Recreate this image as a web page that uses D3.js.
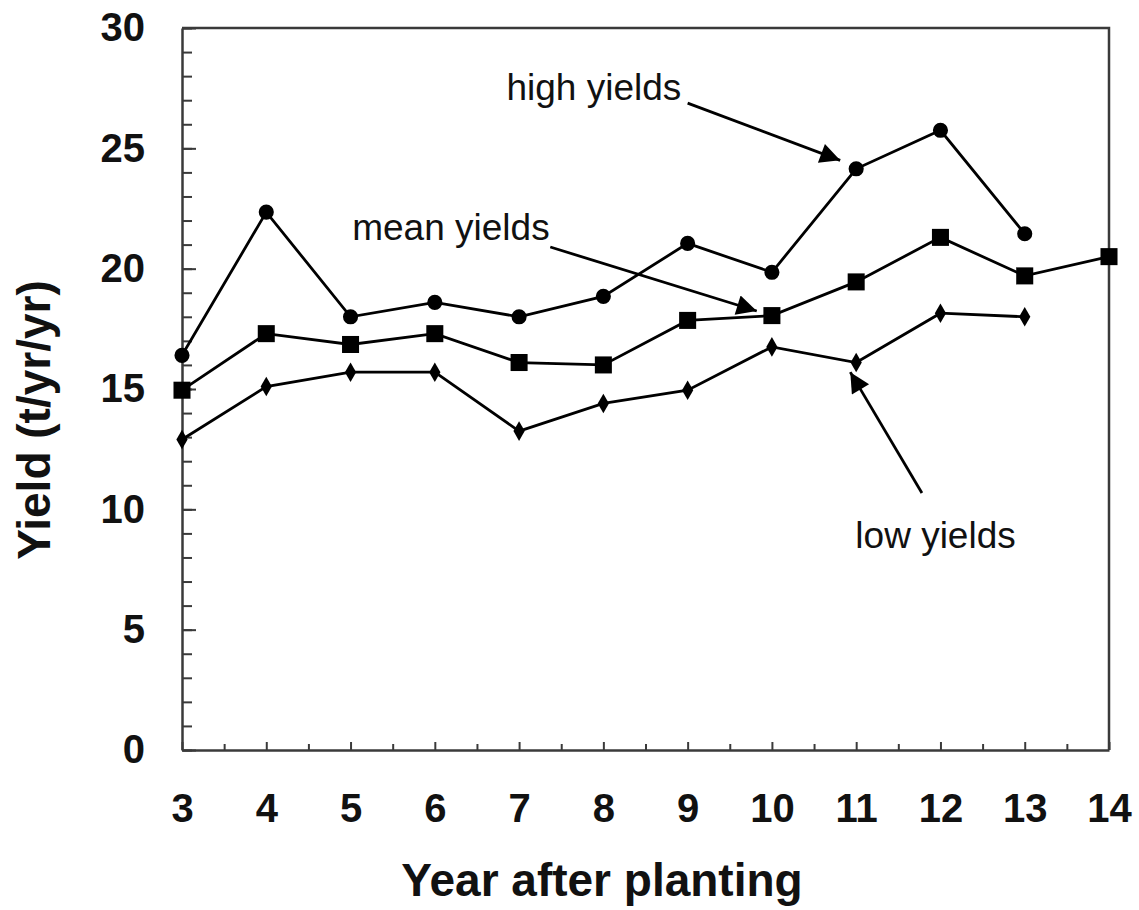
<!DOCTYPE html>
<html>
<head>
    <title>Yield by year after planting</title>
    <script src="https://d3js.org/d3.v7.min.js"></script>
    <style>
        body {
            margin: 0;
            background: #fff;
        }
        svg text {
            font-family: "Liberation Sans", Arial, sans-serif;
        }
    </style>
</head>
<body>
    <svg id="chart" width="1139" height="910"></svg>

    <script>
        // data
        const years = [3, 4, 5, 6, 7, 8, 9, 10, 11, 12, 13, 14];
        const highYields = [16.4, 22.35, 18.0, 18.6, 18.0, 18.85, 21.05, 19.85, 24.15, 25.75, 21.45, null];
        const meanYields = [14.95, 17.3, 16.85, 17.3, 16.1, 16.0, 17.85, 18.05, 19.45, 21.3, 19.7, 20.5];
        const lowYields = [12.9, 15.1, 15.7, 15.7, 13.25, 14.4, 14.95, 16.75, 16.1, 18.15, 18.0, null];
        const yTicks = [0, 5, 10, 15, 20, 25, 30];

        // annotation labels and where their arrows point (data coords)
        const notes = [
            { label: 'high yields', tx: 6.85, ty: 27.0, from: [9.0, 26.88], to: [10.81, 24.5] },
            { label: 'mean yields', tx: 5.02, ty: 21.2, from: [7.37, 20.9], to: [9.82, 18.24] },
            { label: 'low yields', tx: 10.99, ty: 8.4, from: [11.78, 10.68], to: [10.93, 15.7] }
        ];

        const svg = d3.select('#chart');
        const plotLeft = 182, plotRight = 1109, plotTop = 28, plotBottom = 750;

        const x = d3.scaleLinear().domain([3, 14]).range([plotLeft, plotRight]);
        const y = d3.scaleLinear().domain([0, 30]).range([plotBottom, plotTop]);

        const axisColor = '#3a3a3a';

        // frame (top and right)
        svg.append('path')
            .attr('d', `M${plotLeft},${plotTop} H${plotRight} V${plotBottom}`)
            .attr('fill', 'none')
            .attr('stroke', axisColor)
            .attr('stroke-width', 2.5);

        // y axis - minor ticks every unit, major every 5
        svg.append('g')
            .attr('transform', `translate(${plotLeft},0)`)
            .call(d3.axisLeft(y).tickValues(d3.range(0, 31)).tickSize(-10).tickFormat(''))
            .call(g => g.select('.domain').remove())
            .call(g => g.selectAll('line').attr('stroke', axisColor).attr('stroke-width', 2));

        const yAxis = svg.append('g')
            .attr('transform', `translate(${plotLeft},0)`)
            .call(d3.axisLeft(y).tickValues(yTicks).tickSizeInner(-14).tickSizeOuter(0).tickPadding(37));
        yAxis.select('.domain').attr('stroke', axisColor).attr('stroke-width', 2.5);
        yAxis.selectAll('line').attr('stroke', axisColor).attr('stroke-width', 2);
        yAxis.selectAll('text')
            .attr('font-size', 40)
            .attr('font-weight', 'bold')
            .attr('fill', '#111');

        // x axis - ticks at each year and half year
        svg.append('g')
            .attr('transform', `translate(0,${plotBottom})`)
            .call(d3.axisBottom(x).tickValues(d3.range(3.5, 14, 1)).tickSize(-6).tickFormat(''))
            .call(g => g.select('.domain').remove())
            .call(g => g.selectAll('line').attr('stroke', axisColor).attr('stroke-width', 2));

        const xAxis = svg.append('g')
            .attr('transform', `translate(0,${plotBottom})`)
            .call(d3.axisBottom(x).tickValues(years).tickSizeInner(-8).tickSizeOuter(0).tickPadding(44));
        xAxis.select('.domain').attr('stroke', axisColor).attr('stroke-width', 2.5);
        xAxis.selectAll('line').attr('stroke', axisColor).attr('stroke-width', 2);
        xAxis.selectAll('text')
            .attr('font-size', 40)
            .attr('font-weight', 'bold')
            .attr('fill', '#111');

        // axis titles
        svg.append('text')
            .attr('x', 602)
            .attr('y', 896)
            .attr('text-anchor', 'middle')
            .attr('font-size', 46)
            .attr('font-weight', 'bold')
            .attr('fill', '#111')
            .text('Year after planting');

        svg.append('text')
            .attr('transform', 'translate(50,420) rotate(-90)')
            .attr('text-anchor', 'middle')
            .attr('font-size', 46)
            .attr('font-weight', 'bold')
            .attr('fill', '#111')
            .text('Yield (t/yr/yr)');

        // series
        const line = d3.line()
            .defined(d => d.v !== null)
            .x(d => x(d.year))
            .y(d => y(d.v));

        const series = [
            { name: 'high', values: highYields, shape: d3.symbolCircle, size: 180 },
            { name: 'mean', values: meanYields, shape: d3.symbolSquare, size: 290 },
            { name: 'low', values: lowYields, shape: d3.symbolDiamond, size: 110 }
        ];

        series.forEach(s => {
            const pts = years.map((yr, i) => ({ year: yr, v: s.values[i] }));
            svg.append('path')
                .datum(pts)
                .attr('d', line)
                .attr('fill', 'none')
                .attr('stroke', '#000')
                .attr('stroke-width', 2.8);

            svg.append('g')
                .selectAll('path')
                .data(pts.filter(d => d.v !== null))
                .join('path')
                .attr('transform', d => `translate(${x(d.year)},${y(d.v)})`)
                .attr('d', d3.symbol().type(s.shape).size(s.size))
                .attr('fill', '#000');
        });

        // annotations with arrows
        svg.append('defs').append('marker')
            .attr('id', 'arrowhead')
            .attr('viewBox', '0 0 10 10')
            .attr('refX', 10)
            .attr('refY', 5)
            .attr('markerUnits', 'userSpaceOnUse')
            .attr('markerWidth', 27)
            .attr('markerHeight', 20)
            .attr('orient', 'auto')
            .append('path')
            .attr('d', 'M0,0 L10,5 L0,10 Z')
            .attr('fill', '#000');

        notes.forEach(n => {
            svg.append('text')
                .attr('x', x(n.tx))
                .attr('y', y(n.ty))
                .attr('font-size', 37)
                .attr('fill', '#111')
                .text(n.label);

            svg.append('line')
                .attr('x1', x(n.from[0]))
                .attr('y1', y(n.from[1]))
                .attr('x2', x(n.to[0]))
                .attr('y2', y(n.to[1]))
                .attr('stroke', '#000')
                .attr('stroke-width', 2.8)
                .attr('marker-end', 'url(#arrowhead)');
        });
    </script>
</body>
</html>
